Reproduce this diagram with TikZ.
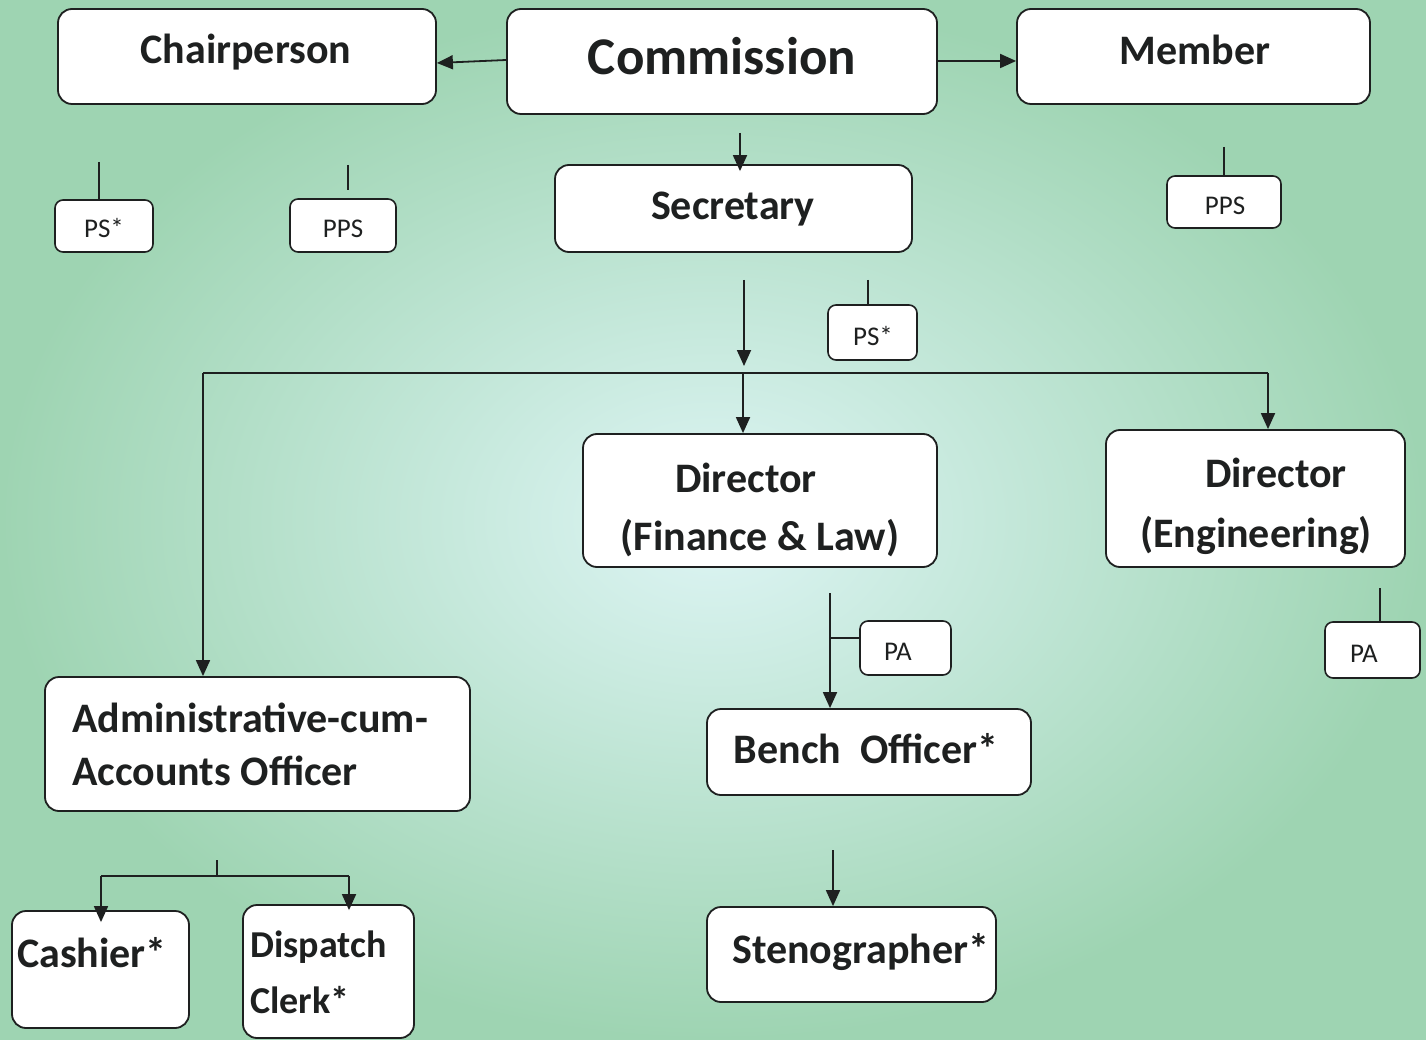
\documentclass[tikz,border=0pt]{standalone}
\usepackage{fontspec}
\setmainfont{Carlito}
\usetikzlibrary{arrows.meta}
\definecolor{bgedge}{RGB}{158,212,178}
\definecolor{bgmid}{RGB}{222,245,245}
\definecolor{ink}{RGB}{30,32,32}
\begin{document}
\begin{tikzpicture}[x=1pt,y=-1pt,
  box/.style={draw=ink,line width=1.8pt,fill=white,rounded corners=14pt,inner sep=0pt},
  sbox/.style={draw=ink,line width=1.6pt,fill=white,rounded corners=8pt,inner sep=0pt},
  big/.style={font=\fontsize{42}{50}\selectfont\bfseries,text=ink,inner sep=0pt,anchor=base},
  bigl/.style={big,anchor=base west},
  midl/.style={font=\fontsize{38}{46}\selectfont\bfseries,text=ink,inner sep=0pt,anchor=base west},
  huge/.style={font=\fontsize{53}{60}\selectfont\bfseries,text=ink,inner sep=0pt,anchor=base},
  small/.style={font=\fontsize{27}{32}\selectfont,text=ink,inner sep=0pt,anchor=base},
  conn/.style={draw=ink,line width=1.8pt},
  arr/.style={conn,-{Triangle[length=16pt,width=14pt]}}
]
% background
\shade[inner color=bgmid,outer color=bgedge] (0,0) rectangle (1426,1040);
\useasboundingbox (0,0) rectangle (1426,1040);

% top row
\node[box,minimum width=378pt,minimum height=95pt] (chair) at (247,56.5) {};
\node[big] (tchair) at (246,64) {Chairperson};
\node[box,minimum width=430pt,minimum height=105pt] (comm) at (722,61.5) {};
\node[huge] (tcomm) at (722,75) {Commission};
\node[box,minimum width=353pt,minimum height=95pt] (member) at (1193.5,56.5) {};
\node[big] (tmember) at (1195,65) {Member};

% small boxes under chair/member
\node[sbox,minimum width=98pt,minimum height=52pt] (chps) at (104,226) {};
\node[small] (tchps) at (104,238) {PS*};
\node[sbox,minimum width=106pt,minimum height=53pt] (chpps) at (343,225.5) {};
\node[small] (tchpps) at (343,238) {PPS};
\node[sbox,minimum width=114pt,minimum height=52pt] (mpps) at (1224,202) {};
\node[small] (tmpps) at (1225,215) {PPS};

% secretary
\node[box,minimum width=357pt,minimum height=87pt] (sec) at (733.5,208.5) {};
\node[big] (tsec) at (733,220) {Secretary};
\node[sbox,minimum width=89pt,minimum height=55pt] (secps) at (872.5,332.5) {};
\node[small] (tsecps) at (873,345) {PS*};

% directors
\node[box,minimum width=354pt,minimum height=133pt] (dfl) at (760,500.5) {};
\node[big] (tdfl1) at (746,492) {Director};
\node[big] (tdfl2) at (760,550) {(Finance \& Law)};
\node[box,minimum width=299pt,minimum height=137pt] (deng) at (1255.5,498.5) {};
\node[big] (tdeng1) at (1276,487) {Director};
\node[big] (tdeng2) at (1256,547) {(Engineering)};
\node[sbox,minimum width=95pt,minimum height=56pt] (engpa) at (1372.5,650) {};
\node[small] (tengpa) at (1364,662) {PA};
\node[sbox,minimum width=91pt,minimum height=54pt] (flpa) at (905.5,648) {};
\node[small] (tflpa) at (898,660) {PA};

% bench & steno
\node[box,minimum width=324pt,minimum height=86pt] (bench) at (869,752) {};
\node[big] (tbench) at (866,763) {Bench\hspace{0.45em}Officer*};
\node[box,minimum width=289pt,minimum height=95pt] (steno) at (851.5,954.5) {};
\node[bigl] (tsteno) at (732,963) {Stenographer*};

% admin
\node[box,minimum width=425pt,minimum height=134pt] (admin) at (257.5,744) {};
\node[bigl] (tadmin1) at (72,732) {Administrative-cum-};
\node[bigl] (tadmin2) at (72,785) {Accounts Officer};
\node[box,minimum width=177pt,minimum height=117pt] (cashier) at (100.5,969.5) {};
\node[bigl] (tcashier) at (17,967) {Cashier*};
\node[box,minimum width=171pt,minimum height=133pt] (dispatch) at (328.5,971.5) {};
\node[midl] (tdisp1) at (250,957) {Dispatch};
\node[midl] (tdisp2) at (250,1013) {Clerk*};

% coordinates for connectors
\coordinate (chpsT) at (99,162);
\coordinate (chppsT) at (348,165);
\coordinate (chppsB) at (348,190);
\coordinate (mppsT) at (1224,147);
\coordinate (comS) at (740,133);
\coordinate (secS) at (744,280);
\coordinate (secE) at (744,366);
\coordinate (secpsT) at (868,280);
\coordinate (busL) at (203,373);
\coordinate (busM) at (743,373);
\coordinate (busR) at (1268,373);
\coordinate (engpaT) at (1380,588);
\coordinate (flS) at (830,593);
\coordinate (flJ) at (830,638);
\coordinate (benchS) at (833,850);
\coordinate (adminT) at (217,860);
\coordinate (adminJ) at (217,876);
\coordinate (cashJ) at (101,876);
\coordinate (dispJ) at (349,876);

% connectors
\draw[arr] (comm.west |- 0,60) -- (chair.east |- 0,63);
\draw[arr] (comm.east |- 0,61) -- (member.west |- 0,61);
\draw[conn] (chpsT) -- (chpsT |- chps.north);
\draw[conn] (chppsT) -- (chppsB);
\draw[conn] (mppsT) -- (mppsT |- mpps.north);
\draw[arr] (comS) -- ([yshift=-7pt]comS |- sec.north);
\draw[arr] (secS) -- (secE);
\draw[conn] (secpsT) -- (secpsT |- secps.north);
\draw[conn] (busL) -- (busR);
\draw[arr] (busL) -- (busL |- admin.north);
\draw[arr] (busM) -- (busM |- dfl.north);
\draw[arr] (busR) -- (busR |- deng.north);
\draw[conn] (engpaT) -- (engpaT |- engpa.north);
\draw[arr] (flS) -- (flS |- bench.north);
\draw[conn] (flJ) -- (flJ -| flpa.west);
\draw[arr] (benchS) -- (benchS |- steno.north);
\draw[conn] (adminT) -- (adminJ);
\draw[conn] (cashJ) -- (dispJ);
\draw[arr] (cashJ) -- ([yshift=-12pt]cashJ |- cashier.north);
\draw[arr] (dispJ) -- ([yshift=-6pt]dispJ |- dispatch.north);
\end{tikzpicture}
\end{document}
